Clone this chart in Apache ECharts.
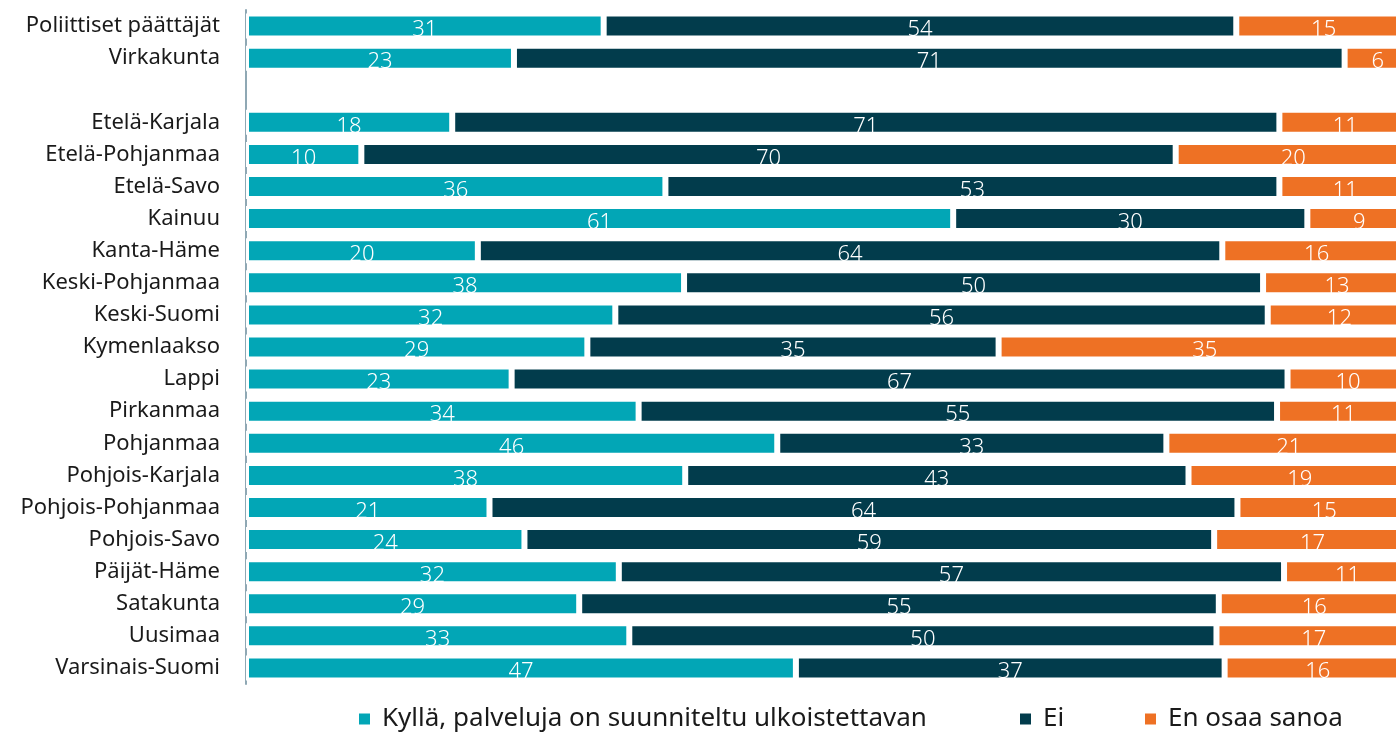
<!DOCTYPE html>
<html>
<head>
<meta charset="utf-8">
<script src="https://cdn.jsdelivr.net/npm/echarts@6/dist/echarts.min.js"></script>
<style>
  html, body { margin: 0; padding: 0; background: #fff; overflow: hidden; }
  #main { width: 1396px; height: 733px; }
</style>
</head>
<body>
<div id="main"></div>
<script>
var categories = ['Poliittiset päättäjät', 'Virkakunta', '', 'Etelä-Karjala', 'Etelä-Pohjanmaa',
    'Etelä-Savo', 'Kainuu', 'Kanta-Häme', 'Keski-Pohjanmaa', 'Keski-Suomi', 'Kymenlaakso',
    'Lappi', 'Pirkanmaa', 'Pohjanmaa', 'Pohjois-Karjala', 'Pohjois-Pohjanmaa', 'Pohjois-Savo',
    'Päijät-Häme', 'Satakunta', 'Uusimaa', 'Varsinais-Suomi'];

// shares in percent
var kylla = [30.7, 23.0, null, 17.7, 9.9, 36.0, 60.7, 19.9, 37.6, 31.7, 29.3,
    22.8, 33.7, 45.6, 37.7, 20.9, 23.9, 32.0, 28.6, 32.9, 47.2];
var ei = [54.3, 71.3, null, 71.0, 69.9, 52.7, 30.4, 63.9, 49.7, 56.0, 35.3,
    66.6, 54.8, 33.4, 43.2, 64.2, 59.2, 57.1, 54.9, 50.4, 36.8];
var eos = [15.0, 5.7, null, 11.3, 20.2, 11.3, 8.9, 16.2, 12.7, 12.3, 35.4,
    10.4, 11.4, 21.0, 19.1, 14.9, 16.9, 10.9, 16.4, 16.7, 16.0];

var seriesNames = ['Kyllä, palveluja on suunniteltu ulkoistettavan', 'Ei', 'En osaa sanoa'];
var colors = ['#02A6B6', '#023C4C', '#EE7124'];

var myChart = echarts.init(document.getElementById('main'));

var font = '"Noto Sans", "Open Sans", sans-serif';

function makeSeries(i, data) {
    return {
        name: seriesNames[i],
        type: 'bar',
        stack: 'total',
        barWidth: 25,
        clip: false,
        itemStyle: {
            color: colors[i],
            borderColor: '#ffffff',
            borderWidth: 3,
        },
        label: {
            show: true,
            position: 'inside',
            offset: [0, 4],
            color: '#ffffff',
            fontFamily: font,
            fontSize: 22,
            fontWeight: 300,
            formatter: function (p) {
                return Math.round(p.value);
            },
        },
        data: data,
    };
}

function makeLegend(i, left) {
    return {
        left: left,
        top: 706,
        padding: 0,
        icon: 'rect',
        itemWidth: 13,
        itemHeight: 13,
        textStyle: {
            fontFamily: font,
            fontSize: 26,
            color: '#1a1a1a',
            padding: [0, 0, 0, 6],
        },
        data: [seriesNames[i]],
    };
}

var option = {
    backgroundColor: '#ffffff',
    animation: false,
    color: colors,
    grid: {
        left: 246,
        right: 0,
        top: 10,
        bottom: 49,
    },
    legend: [makeLegend(0, 357), makeLegend(1, 1018), makeLegend(2, 1143)],
    xAxis: {
        type: 'value',
        min: 0,
        // the plot runs on past the right edge of the picture
        max: 98.71,
        show: false,
    },
    yAxis: {
        type: 'category',
        inverse: true,
        data: categories,
        axisTick: { show: false },
        axisLine: {
            lineStyle: {
                color: '#8FA8B4',
                width: 2,
            },
        },
        axisLabel: {
            margin: 26,
            fontFamily: font,
            fontSize: 22,
            color: '#1a1a1a',
            padding: [3, 0, 0, 0],
        },
    },
    series: [makeSeries(0, kylla), makeSeries(1, ei), makeSeries(2, eos)],
};
myChart.setOption(option);
</script>
</body>
</html>
